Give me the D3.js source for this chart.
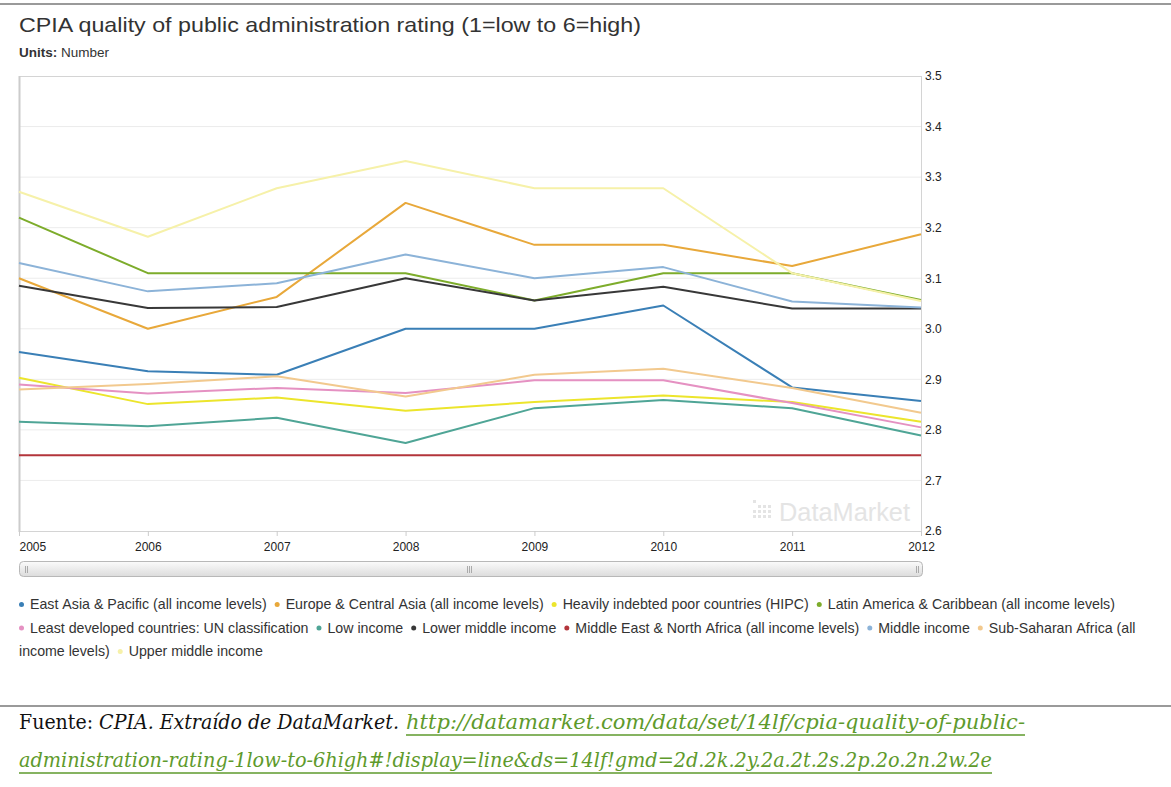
<!DOCTYPE html>
<html><head><meta charset="utf-8">
<script src="https://cdn.jsdelivr.net/npm/d3@7"></script>
<style>html,body{margin:0;padding:0;background:#fff;}svg{display:block;}</style>
</head><body>
<svg id="c" width="1171" height="787"></svg>
<script>
const years = [2005, 2006, 2007, 2008, 2009, 2010, 2011, 2012];
const yTicks = [2.6, 2.7, 2.8, 2.9, 3.0, 3.1, 3.2, 3.3, 3.4, 3.5];
const seriesNames = [
  "East Asia & Pacific (all income levels)",
  "Europe & Central Asia (all income levels)",
  "Heavily indebted poor countries (HIPC)",
  "Latin America & Caribbean (all income levels)",
  "Least developed countries: UN classification",
  "Low income",
  "Lower middle income",
  "Middle East & North Africa (all income levels)",
  "Middle income",
  "Sub-Saharan Africa (all income levels)",
  "Upper middle income"
];
const seriesColors = ["#3a7fb6", "#e8a83a", "#ece52c", "#7dac2b", "#e591c2", "#4fa596", "#383838", "#b3353b", "#8cb3d8", "#f2c98e", "#f6f1a9"];
const eastAsia    = [2.954, 2.916, 2.909, 3.000, 3.000, 3.046, 2.884, 2.857];
const europe      = [3.100, 3.000, 3.063, 3.249, 3.166, 3.166, 3.124, 3.187];
const hipc        = [2.903, 2.851, 2.864, 2.838, 2.855, 2.868, 2.855, 2.816];
const latinAm     = [3.220, 3.110, 3.110, 3.110, 3.056, 3.110, 3.110, 3.057];
const leastDev    = [2.890, 2.872, 2.883, 2.873, 2.898, 2.898, 2.853, 2.805];
const lowIncome   = [2.816, 2.807, 2.824, 2.774, 2.843, 2.859, 2.843, 2.789];
const lowerMiddle = [3.085, 3.041, 3.043, 3.100, 3.056, 3.083, 3.040, 3.040];
const mena        = [2.750, 2.750, 2.750, 2.750, 2.750, 2.750, 2.750, 2.750];
const middleInc   = [3.130, 3.074, 3.090, 3.147, 3.100, 3.122, 3.054, 3.042];
const subSaharan  = [2.880, 2.891, 2.906, 2.866, 2.909, 2.921, 2.883, 2.834];
const upperMiddle = [3.271, 3.182, 3.278, 3.332, 3.278, 3.278, 3.110, 3.055];
const seriesValues = [eastAsia, europe, hipc, latinAm, leastDev, lowIncome, lowerMiddle, mena, middleInc, subSaharan, upperMiddle];

const svg = d3.select("#c");
const font = "'Liberation Sans', Arial, sans-serif";

// top rule
svg.append("rect").attr("x", 0).attr("y", 3).attr("width", 1171).attr("height", 2).attr("fill", "#9a9a9a");

// title
svg.append("text").attr("x", 19).attr("y", 32).attr("font-family", font).attr("font-size", 21)
  .attr("fill", "#333").attr("textLength", 622).attr("lengthAdjust", "spacingAndGlyphs")
  .text("CPIA quality of public administration rating (1=low to 6=high)");
const u = svg.append("text").attr("x", 19).attr("y", 57).attr("font-family", font).attr("font-size", 12.5)
  .attr("fill", "#333").attr("textLength", 90).attr("lengthAdjust", "spacingAndGlyphs");
u.append("tspan").attr("font-weight", "bold").text("Units:");
u.append("tspan").text(" Number");

const x = d3.scaleLinear().domain([2005, 2012]).range([19, 921]);
const y = d3.scaleLinear().domain([2.6, 3.5]).range([531, 76]);

// gridlines
svg.append("g").selectAll("line").data(yTicks.slice(1, -1)).join("line")
  .attr("x1", 20).attr("x2", 921).attr("y1", d => y(d)).attr("y2", d => y(d))
  .attr("stroke", "#ececec").attr("stroke-width", 1);

// frame
svg.append("rect").attr("x", 19.5).attr("y", 76.5).attr("width", 902).attr("height", 455)
  .attr("fill", "none").attr("stroke", "#d4d4d4").attr("stroke-width", 1);
svg.append("line").attr("x1", 19.5).attr("x2", 19.5).attr("y1", 76).attr("y2", 532)
  .attr("stroke", "#cccccc").attr("stroke-width", 2);

// watermark
const wm = svg.append("g").attr("fill", "#e4e4e4");
const dots = [[0,0],[1,1],[2,1],[3,1],[0,2],[1,2],[2,2],[3,2],[0,3],[1,3],[2,3],[3,3]];
wm.selectAll("rect").data(dots).join("rect")
  .attr("x", d => 753 + d[0] * 5).attr("y", d => 500 + d[1] * 5).attr("width", 3).attr("height", 3);
wm.append("text").attr("x", 779).attr("y", 521).attr("font-family", font).attr("font-size", 25)
  .attr("textLength", 131).attr("lengthAdjust", "spacingAndGlyphs").text("DataMarket");

// y axis (right)
const yAxis = d3.axisRight(y).tickValues(yTicks).tickSize(0).tickPadding(4).tickFormat(d3.format(".1f"));
const ya = svg.append("g").attr("transform", "translate(921,0)").call(yAxis);
ya.select(".domain").remove();
ya.selectAll("text").attr("font-family", font).attr("font-size", 12).attr("fill", "#222");

// x axis
const xAxis = d3.axisBottom(x).tickValues(years).tickSize(5).tickPadding(6).tickFormat(d3.format("d"));
const xa = svg.append("g").attr("transform", "translate(0,531)").call(xAxis);
xa.select(".domain").remove();
xa.selectAll("line").attr("stroke", "#ccc");
xa.selectAll("text").attr("font-family", font).attr("font-size", 12).attr("fill", "#222")
  .attr("text-anchor", (d, i) => i === 0 ? "start" : "middle");

// lines
const line = d3.line().x((d, i) => x(years[i])).y(d => y(d));
svg.append("g").selectAll("path").data(seriesValues).join("path")
  .attr("d", line).attr("fill", "none")
  .attr("stroke", (d, i) => seriesColors[i]).attr("stroke-width", 2).attr("stroke-linejoin", "round");

// scrollbar
const defs = svg.append("defs");
const gr = defs.append("linearGradient").attr("id", "sg").attr("x1", 0).attr("x2", 0).attr("y1", 0).attr("y2", 1);
gr.append("stop").attr("offset", "0%").attr("stop-color", "#fbfbfb");
gr.append("stop").attr("offset", "100%").attr("stop-color", "#dcdcdc");
svg.append("rect").attr("x", 19.5).attr("y", 561.5).attr("width", 903).attr("height", 15).attr("rx", 4)
  .attr("fill", "url(#sg)").attr("stroke", "#b8b8b8");
const grips = [[25, 2], [467, 3], [916, 2]];
grips.forEach(g => {
  for (let k = 0; k < g[1]; k++) {
    svg.append("line").attr("x1", g[0] + k * 2 + 0.5).attr("x2", g[0] + k * 2 + 0.5).attr("y1", 566).attr("y2", 573)
      .attr("stroke", "#aaa").attr("stroke-width", 1);
  }
});

// legend (flowing, word-wrapped)
const leg = svg.append("g").attr("font-family", font).attr("font-size", 14.2).attr("fill", "#333");
const maxX = 1156, lineH = 23.5;
let cx = 19, row = 0;
const baseY = 609;
const measure = leg.append("text").attr("visibility", "hidden");
function w(s) { measure.text(s); return measure.node().getComputedTextLength(); }
const spaceW = w("a a") - w("aa");
seriesNames.forEach((name, i) => {
  const words = name.split(" ");
  if (i > 0) cx += 8;
  const firstW = 11 + w(words[0]);
  if (cx + firstW > maxX) { row++; cx = 19; }
  leg.append("circle").attr("cx", cx + 2.5).attr("cy", baseY + row * lineH - 4.5).attr("r", 2.5).attr("fill", seriesColors[i]);
  cx += 11;
  words.forEach((wd, j) => {
    const ww = w(wd);
    if (j > 0) {
      if (cx + spaceW + ww > maxX) { row++; cx = 19; }
      else cx += spaceW;
    }
    leg.append("text").attr("x", cx).attr("y", baseY + row * lineH).text(wd);
    cx += ww;
  });
});
measure.remove();

// bottom rule + source
svg.append("rect").attr("x", 0).attr("y", 705).attr("width", 1171).attr("height", 2).attr("fill", "#9a9a9a");
const serif = "'DejaVu Serif Condensed', 'DejaVu Serif', 'Liberation Serif', serif";
const linkCol = "#5e9a2c";
const f1 = svg.append("text").attr("x", 19).attr("y", 729).attr("font-family", serif).attr("font-size", 19.5)
  .attr("textLength", 380).attr("lengthAdjust", "spacingAndGlyphs").attr("fill", "#111");
f1.append("tspan").text("Fuente: ");
f1.append("tspan").attr("font-style", "italic").text("CPIA. Extraído de DataMarket.");
svg.append("text").attr("x", 406).attr("y", 729).attr("font-family", serif).attr("font-size", 19.5).attr("font-style", "italic")
  .attr("fill", linkCol).attr("textLength", 619).attr("lengthAdjust", "spacingAndGlyphs")
  .text("http://datamarket.com/data/set/14lf/cpia-quality-of-public-");
svg.append("line").attr("x1", 406).attr("x2", 1025).attr("y1", 735).attr("y2", 735).attr("stroke", linkCol).attr("stroke-width", 1.5);
svg.append("text").attr("x", 19).attr("y", 767).attr("font-family", serif).attr("font-size", 19.5).attr("font-style", "italic")
  .attr("fill", linkCol).attr("textLength", 973).attr("lengthAdjust", "spacingAndGlyphs")
  .text("administration-rating-1low-to-6high#!display=line&ds=14lf!gmd=2d.2k.2y.2a.2t.2s.2p.2o.2n.2w.2e");
svg.append("line").attr("x1", 19).attr("x2", 992).attr("y1", 773).attr("y2", 773).attr("stroke", linkCol).attr("stroke-width", 1.5);
</script>
</body></html>
